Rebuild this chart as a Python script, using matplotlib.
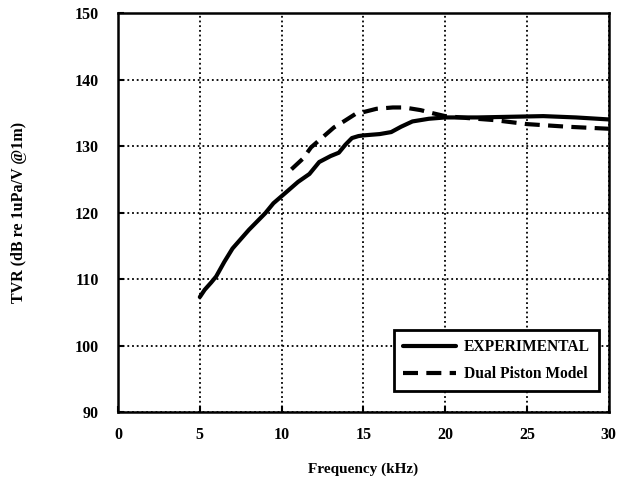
import numpy as np
import matplotlib.pyplot as plt

exp_freq = [5.0, 5.3, 5.7, 6.0, 6.5, 7.0, 8.0, 9.0, 9.5, 10.3, 11.0, 11.7, 12.3,
            13.0, 13.5, 13.9, 14.3, 14.7, 15.0, 16.0, 16.7, 17.3, 18.0, 19.0,
            20.0, 22.0, 24.0, 26.0, 28.0, 30.0]
exp_tvr = [107.3, 108.4, 109.5, 110.4, 112.6, 114.6, 117.4, 119.9, 121.4, 123.1,
           124.6, 125.8, 127.6, 128.5, 129.0, 130.2, 131.2, 131.5, 131.6, 131.8,
           132.1, 132.9, 133.7, 134.1, 134.3, 134.3, 134.4, 134.5, 134.3, 134.0]

# dual piston model
model_freq = [10.6, 11.3, 11.8, 12.5, 13.2, 13.8, 14.5, 15.0, 15.8, 16.8, 17.5,
              18.5, 19.3, 20.0, 21.4, 23.0, 25.0, 27.5, 30.0]
model_tvr = [126.5, 128.1, 129.8, 131.3, 132.8, 133.7, 134.8, 135.1, 135.6, 135.8,
             135.8, 135.4, 134.9, 134.5, 134.2, 133.9, 133.3, 132.9, 132.6]

x_ticks = [0, 5, 10, 15, 20, 25, 30]
y_ticks = [90, 100, 110, 120, 130, 140, 150]

plt.rcParams['font.family'] = ['Liberation Serif', 'DejaVu Serif']
plt.rcParams['font.weight'] = 'bold'

fig = plt.figure(figsize=(6.18, 4.82), dpi=100)
ax = fig.add_axes([0.191, 0.145, 0.794, 0.828])

ax.plot(exp_freq, exp_tvr, color='black', linewidth=3, solid_capstyle='round',
        solid_joinstyle='round', label='EXPERIMENTAL')
ax.plot(model_freq, model_tvr, color='black', linewidth=3, dashes=(3.6, 2.0),
        label='Dual Piston Model')

ax.set_xlim(0, 30)
ax.set_ylim(90, 150)
ax.set_xticks(x_ticks)
ax.set_yticks(y_ticks)

ax.grid(True, color='black', linestyle=(0, (1, 1.6)), linewidth=1.3)
for s in ax.spines.values():
    s.set_linewidth(1.8)

ax.tick_params(direction='in', length=4, width=1.5, labelsize=11.5, pad=14)
ax.tick_params(axis='x', pad=11)
for lab in ax.get_xticklabels() + ax.get_yticklabels():
    lab.set_fontweight('bold')

ax.set_xlabel('Frequency (kHz)', fontsize=11, fontweight='bold', labelpad=14)
ax.set_ylabel('TVR (dB re 1uPa/V @1m)', fontsize=11.5, fontweight='bold', labelpad=34)

leg = ax.legend(loc='lower right', bbox_to_anchor=(0.99, 0.04),
                frameon=True, fancybox=False, edgecolor='black', framealpha=1,
                handlelength=3.4, borderpad=0.6, labelspacing=0.7,
                handletextpad=0.5, borderaxespad=0.3,
                prop={'weight': 'bold', 'size': 11.2})
leg.get_frame().set_linewidth(2)

fig.savefig('out.png', dpi=100)
